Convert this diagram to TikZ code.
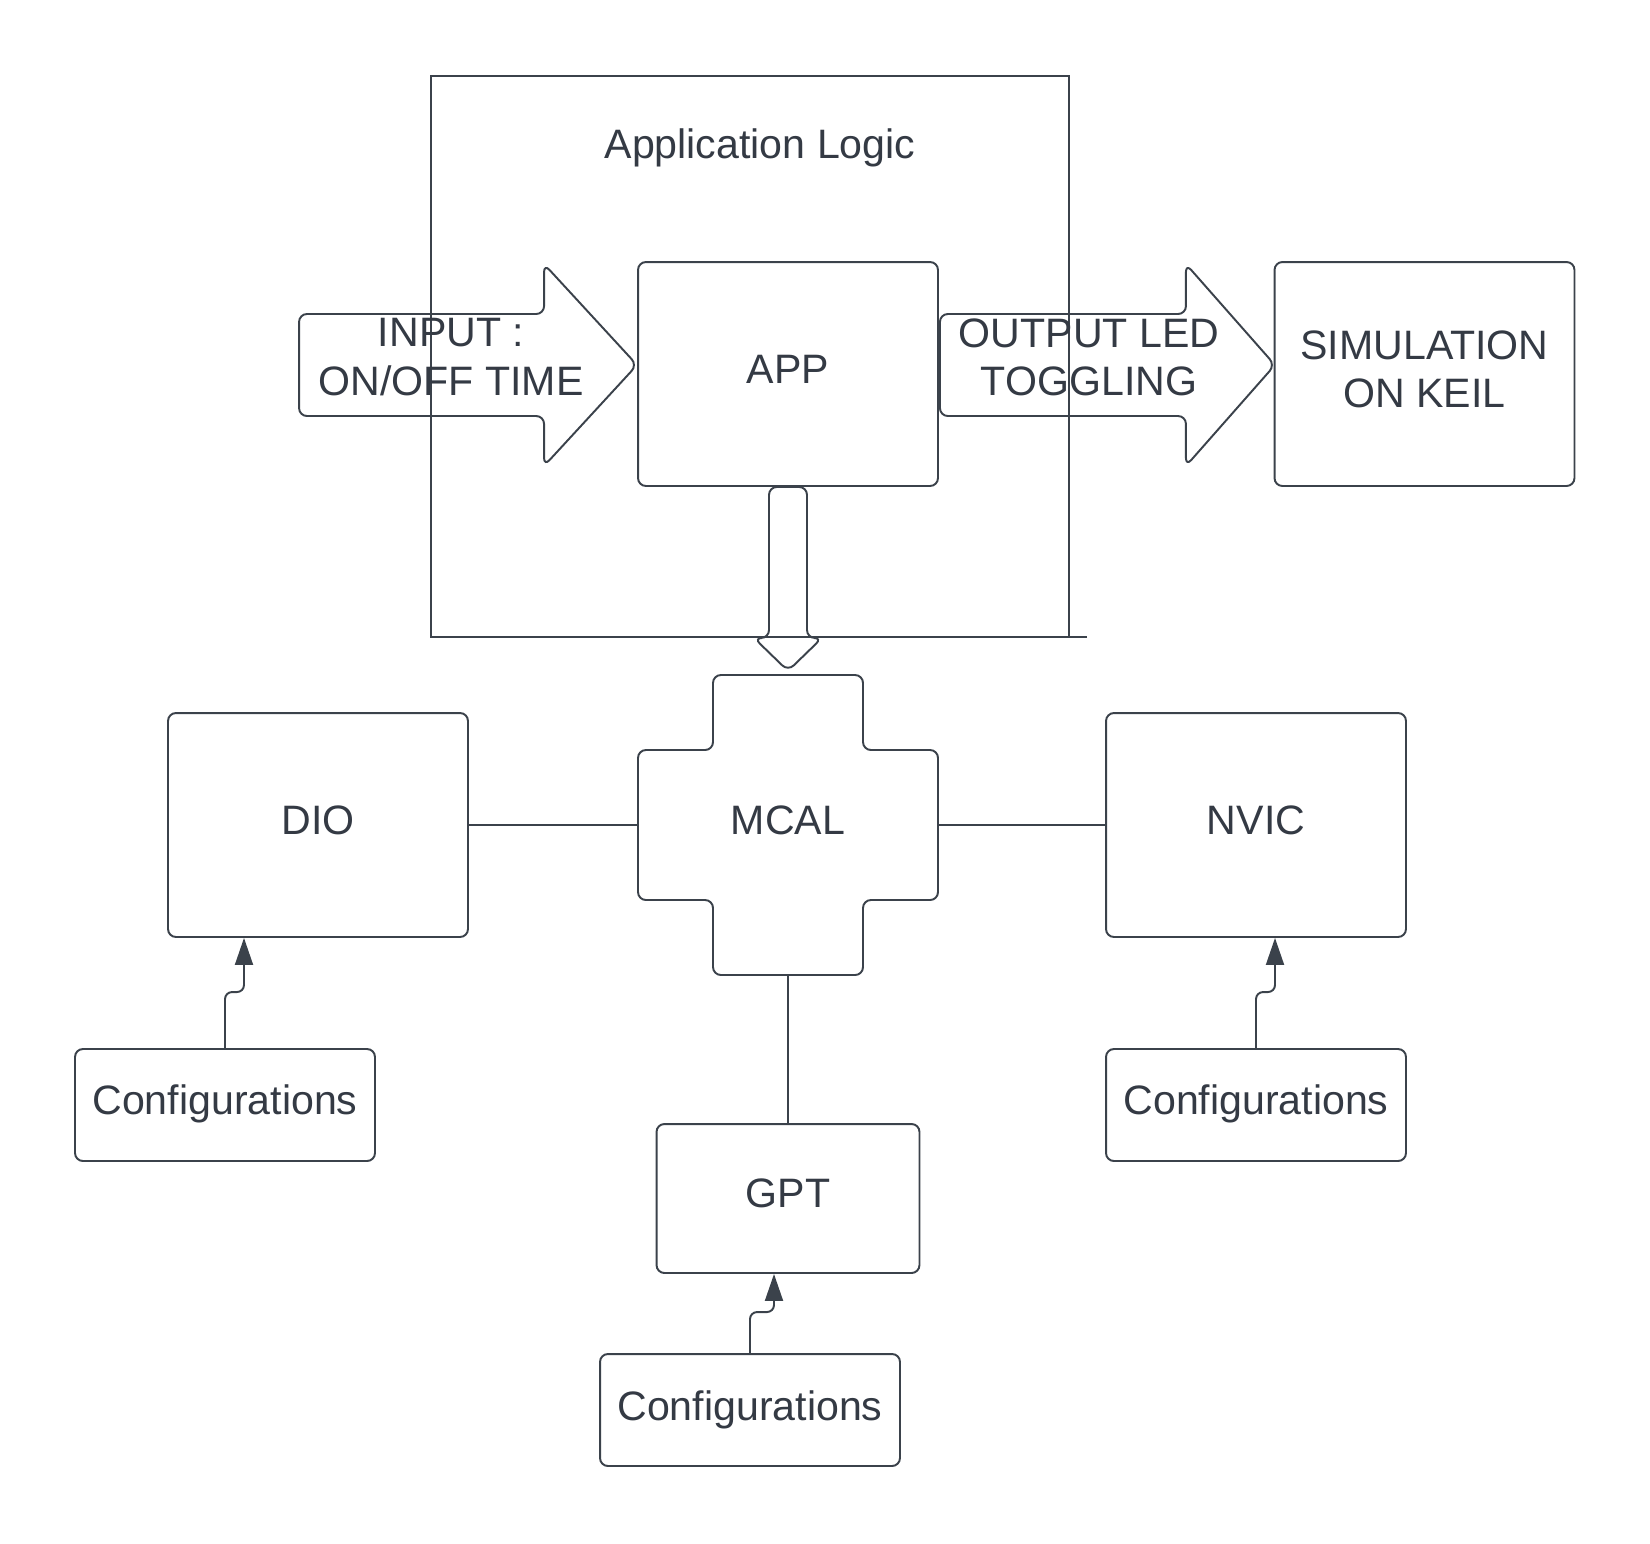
\documentclass[tikz,border=0pt]{standalone}
\usepackage{fontspec}
\setmainfont{Liberation Sans}
\usetikzlibrary{arrows.meta,calc}

\definecolor{linegray}{HTML}{3B424B}
\definecolor{textgray}{HTML}{343A44}

\begin{document}
\begin{tikzpicture}[
  x=0.02cm, y=-0.02cm,
  font=\fontsize{23.4}{27.5}\selectfont,
  block/.style={draw=linegray, line width=1.1pt, rounded corners=4.5pt, text=textgray, align=center, inner sep=0pt, text depth=5.6pt},
  module/.style={block, minimum width=6cm, minimum height=4.48cm},
  config/.style={block, minimum width=6cm, minimum height=2.24cm},
  txt/.style={text=textgray, align=center, inner sep=0pt},
  outline/.style={draw=linegray, line width=1.1pt, rounded corners=4.5pt},
  link/.style={draw=linegray, line width=1.1pt},
  cfgarrow/.style={draw=linegray, line width=1.1pt, rounded corners=4pt, -{Triangle[length=0.54cm, width=0.36cm]}}
]
\useasboundingbox (0,0) rectangle (1650,1543);

% application layer
\draw[link] (1087,637) -- (431,637) -- (431,76) -- (1069,76) -- (1069,637);
\node[txt] (applogic) at (760,148) {Application Logic};
\node[module] (app) at (788,374) {APP};
\node[module] (sim) at (1424.5,374) {SIMULATION\\ON KEIL};

% block arrows
\draw[outline, shift={(app.west)}] (-338,-60) -- (-93,-60) -- (-93,-110) -- (0,-9) -- (-93,92) -- (-93,42) -- (-338,42) -- cycle;
\node[txt] (inlabel) at (451,357) {INPUT :\\ON/OFF TIME};
\draw[outline, shift={(app.east)}] (1,-60) -- (247,-60) -- (247,-110) -- (336,-9) -- (247,92) -- (247,42) -- (1,42) -- cycle;
\node[txt] (outlabel) at (1089,357) {OUTPUT LED\\TOGGLING};

% MCAL layer
\node[txt, text depth=5.6pt, minimum width=6cm, minimum height=6cm] (mcal) at (788,825) {MCAL};
\draw[outline, shift={(mcal.center)}] (-75,-150) -- (75,-150) -- (75,-75) -- (150,-75) -- (150,75) -- (75,75) -- (75,150) -- (-75,150) -- (-75,75) -- (-150,75) -- (-150,-75) -- (-75,-75) -- cycle;
\draw[outline, shift={(app.south)}] (-19,0) -- (-19,151) -- (-34,151) -- (0,184) -- (34,151) -- (19,151) -- (19,0) -- cycle;

\node[module] (dio) at (318,825) {DIO};
\node[module] (nvic) at (1256,825) {NVIC};
\node[block, minimum width=5.26cm, minimum height=2.98cm] (gpt) at (788,1198.5) {GPT};

\draw[link] (dio) -- (mcal);
\draw[link] (mcal) -- (nvic);
\draw[link] (mcal) -- (gpt);

% configurations
\node[config] (cfgdio) at (225,1105) {Configurations};
\node[config] (cfgnvic) at (1256,1105) {Configurations};
\node[config] (cfggpt) at (750,1410) {Configurations};

\draw[cfgarrow] (cfgdio.north) -- ++(0,-56) -| ($(cfgdio.north |- dio.south)+(19,0)$);
\draw[cfgarrow] (cfgnvic.north) -- ++(0,-56) -| ($(cfgnvic.north |- nvic.south)+(19,0)$);
\draw[cfgarrow] (cfggpt.north) -- ++(0,-41) -| ($(cfggpt.north |- gpt.south)+(24,0)$);
\end{tikzpicture}
\end{document}
